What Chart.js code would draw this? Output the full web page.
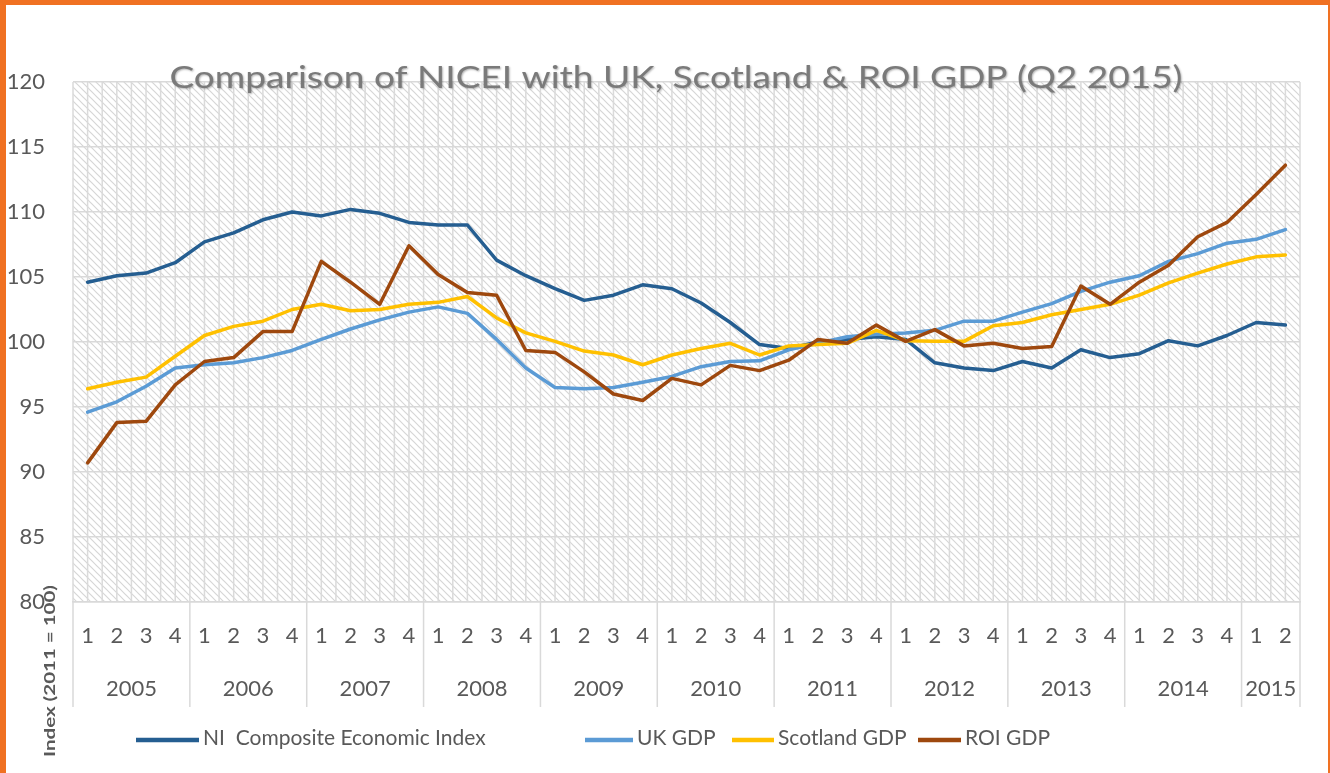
<!DOCTYPE html>
<html><head><meta charset="utf-8">
<script src="https://cdn.jsdelivr.net/npm/chart.js@4.4.1/dist/chart.umd.min.js"></script>
<style>
html,body{margin:0;padding:0;background:#fff;}
#wrap{position:relative;width:1330px;height:773px;overflow:hidden;background:#fff;}
#c{position:absolute;left:0;top:0;}
#frame{position:absolute;left:0;top:0;width:1330px;height:773px;box-sizing:border-box;border-top:5px solid #F07122;border-left:6px solid #F07122;border-right:2px solid #F07122;pointer-events:none;}
</style></head><body>
<div id="wrap"><canvas id="c" width="1330" height="773"></canvas><div id="frame"></div></div>
<script>
const quarters = ['1','2','3','4','1','2','3','4','1','2','3','4','1','2','3','4','1','2','3','4','1','2','3','4','1','2','3','4','1','2','3','4','1','2','3','4','1','2','3','4','1','2'];
const years = ['2005','2006','2007','2008','2009','2010','2011','2012','2013','2014','2015'];
const yTickValues = [80,85,90,95,100,105,110,115,120];

const niIndex = [104.6,105.1,105.3,106.1, 107.7,108.4,109.4,110.0, 109.7,110.2,109.9,109.2, 109.0,109.0,106.3,105.1, 104.1,103.2,103.6,104.4, 104.1,103.0,101.5,99.8, 99.5,100.0,100.2,100.4, 100.2,98.4,98.0,97.8, 98.5,98.0,99.4,98.8, 99.1,100.1,99.7,100.5, 101.5,101.3];
const ukGdp = [94.6,95.4,96.6,98.0, 98.25,98.4,98.8,99.35, 100.2,101.0,101.7,102.3, 102.7,102.2,100.2,98.0, 96.5,96.4,96.5,96.9, 97.35,98.1,98.5,98.55, 99.4,99.9,100.4,100.6, 100.7,100.9,101.6,101.6, 102.3,102.95,103.9,104.6, 105.1,106.2,106.8,107.6, 107.9,108.65];
const scotlandGdp = [96.4,96.9,97.3,98.9, 100.5,101.2,101.6,102.5, 102.9,102.4,102.5,102.9, 103.05,103.5,101.85,100.7, 100.05,99.3,99.0,98.25, 99.0,99.5,99.9,99.0, 99.7,99.8,99.9,100.9, 100.1,100.05,100.05,101.25, 101.5,102.1,102.5,102.9, 103.6,104.55,105.3,106.0, 106.55,106.7];
const roiGdp = [90.7,93.8,93.9,96.7, 98.5,98.8,100.8,100.8, 106.2,104.6,102.9,107.4, 105.2,103.8,103.6,99.35, 99.2,97.7,96.0,95.5, 97.2,96.7,98.2,97.8, 98.6,100.2,99.9,101.3, 100.05,100.95,99.7,99.9, 99.5,99.65,104.3,102.9, 104.6,105.9,108.1,109.2, 111.35,113.6];

const seriesNames = ['NI  Composite Economic Index','UK GDP','Scotland GDP','ROI GDP'];
const seriesColors = ['#255E91','#5B9BD5','#FFC000','#9E480E'];
const seriesValues = [niIndex, ukGdp, scotlandGdp, roiGdp];

const titleText = 'Comparison of NICEI with UK, Scotland & ROI GDP (Q2 2015)';
const yTitleText = 'Index (2011 = 100)';
const TEXT = '#595959';
const GRID = '#d9d9d9';
// legend layout (style only)
const legendSwatchStart = [136, 585, 732, 918];
const legendSwatchEnd = [199, 633, 774, 961];

Chart.defaults.font.family = 'Lato';

// hatch pattern
const pc = document.createElement('canvas');
pc.width = 7; pc.height = 7;
const pctx = pc.getContext('2d');
pctx.fillStyle = '#ffffff'; pctx.fillRect(0,0,7,7);
pctx.strokeStyle = '#d6d6d6'; pctx.lineWidth = 1.2;
pctx.beginPath();
pctx.moveTo(-1,-1); pctx.lineTo(8,8);
pctx.moveTo(-1,6); pctx.lineTo(1,8);
pctx.moveTo(6,-1); pctx.lineTo(8,1);
pctx.stroke();

const bgPlugin = {
  id: 'bg',
  beforeDraw(chart) {
    const {ctx, chartArea: {left, top, right, bottom}, scales: {x}} = chart;
    ctx.save();
    ctx.fillStyle = ctx.createPattern(pc, 'repeat');
    ctx.fillRect(left, top, right - left, bottom - top);
    const half = (x.getPixelForValue(1) - x.getPixelForValue(0)) / 2;
    const start = x.getPixelForValue(0) - half;
    ctx.strokeStyle = '#dadada';
    ctx.lineWidth = 1.5;
    ctx.beginPath();
    for (let i = 0; i <= quarters.length * 2; i++) {
      const px = start + i * half;
      ctx.moveTo(px, top); ctx.lineTo(px, bottom);
    }
    ctx.stroke();
    ctx.restore();
  }
};

const decoPlugin = {
  id: 'deco',
  afterDraw(chart) {
    const {ctx, chartArea, scales: {x}} = chart;
    ctx.save();
    // year groups
    const half = (x.getPixelForValue(1) - x.getPixelForValue(0)) / 2;
    const y0 = chartArea.bottom, y1 = chartArea.bottom + 105;
    ctx.strokeStyle = GRID; ctx.lineWidth = 1.5;
    ctx.fillStyle = TEXT; ctx.font = '22px Lato';
    ctx.textAlign = 'center'; ctx.textBaseline = 'middle';
    let s = 0;
    years.forEach((yr) => {
      let e = s;
      while (e + 1 < quarters.length && quarters[e + 1] !== '1') e++;
      const l = x.getPixelForValue(s) - half;
      const r = x.getPixelForValue(e) + half;
      ctx.beginPath(); ctx.moveTo(l, y0); ctx.lineTo(l, y1);
      if (e === quarters.length - 1) { ctx.moveTo(r, y0); ctx.lineTo(r, y1); }
      ctx.stroke();
      ctx.fillText(yr, (l + r) / 2, chartArea.bottom + 87);
      s = e + 1;
    });
    // legend from the chart's datasets
    ctx.font = '21px Lato';
    ctx.textAlign = 'left'; ctx.textBaseline = 'middle';
    chart.data.datasets.forEach((ds, i) => {
      ctx.strokeStyle = ds.borderColor; ctx.lineWidth = 4.5; ctx.lineCap = 'butt';
      ctx.beginPath(); ctx.moveTo(legendSwatchStart[i], 740); ctx.lineTo(legendSwatchEnd[i], 740); ctx.stroke();
      ctx.fillStyle = TEXT;
      ctx.fillText(ds.label, legendSwatchEnd[i] + 4, 738);
    });
    // title
    ctx.font = '30px Lato';
    ctx.textAlign = 'center'; ctx.textBaseline = 'alphabetic';
    const tw = ctx.measureText(titleText).width;
    ctx.save();
    ctx.translate(676, 88);
    ctx.scale(1013 / tw, 1);
    ctx.shadowColor = 'rgba(0,0,0,0.3)'; ctx.shadowBlur = 2; ctx.shadowOffsetX = 1; ctx.shadowOffsetY = 1;
    ctx.fillStyle = '#7a7a7a';
    ctx.fillText(titleText, 0, 0);
    ctx.restore();
    // y axis title
    ctx.font = 'bold 16px Lato';
    const yw = ctx.measureText(yTitleText).width;
    ctx.save();
    ctx.translate(50, 671);
    ctx.rotate(-Math.PI / 2);
    ctx.scale(172 / yw, 1);
    ctx.fillStyle = TEXT; ctx.textAlign = 'center'; ctx.textBaseline = 'middle';
    ctx.fillText(yTitleText, 0, 0);
    ctx.restore();
    ctx.restore();
  }
};

const datasets = seriesValues.map((vals, i) => ({
  label: seriesNames[i],
  data: vals,
  borderColor: seriesColors[i],
  backgroundColor: seriesColors[i],
  borderWidth: 3.5,
  pointRadius: 0,
  tension: 0,
  borderJoinStyle: 'round',
  borderCapStyle: 'round',
  order: seriesValues.length - i
}));

new Chart(document.getElementById('c'), {
  type: 'line',
  data: { labels: quarters, datasets },
  options: {
    responsive: false,
    animation: false,
    layout: { padding: { top: 82, right: 30, bottom: 66, left: 0 } },
    plugins: {
      title: { display: false },
      tooltip: { enabled: false },
      legend: { display: false }
    },
    scales: {
      x: {
        type: 'category',
        offset: true,
        grid: { display: false, drawTicks: false },
        border: { display: true, color: GRID, width: 1.5 },
        ticks: { autoSkip: false, maxRotation: 0, padding: 21, color: TEXT, font: { size: 22 } },
        afterFit(s) { s.height = 105; }
      },
      y: {
        min: 80, max: 120,
        afterBuildTicks(s) { s.ticks = yTickValues.map(v => ({ value: v })); },
        grid: { color: GRID, lineWidth: 1.5, drawTicks: false },
        border: { display: false },
        ticks: { padding: 28, color: TEXT, font: { size: 22 } },
        afterFit(s) { s.width = 73; }
      }
    }
  },
  plugins: [bgPlugin, decoPlugin]
});
</script>
</body></html>
